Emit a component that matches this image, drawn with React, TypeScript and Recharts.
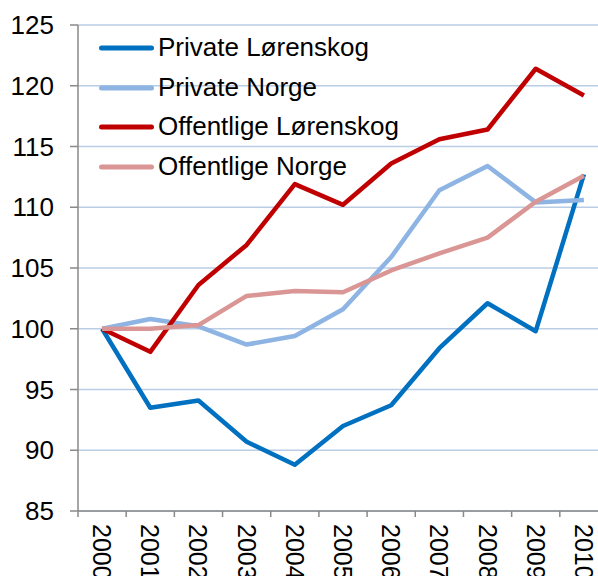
import React from 'react';
import { LineChart, Line, XAxis, YAxis, CartesianGrid, Legend } from 'recharts';

const years = ['2000', '2001', '2002', '2003', '2004', '2005', '2006', '2007', '2008', '2009', '2010'];
const privateLorenskog = [100, 93.5, 94.1, 90.7, 88.8, 92.0, 93.7, 98.4, 102.1, 99.8, 112.7];
const privateNorge = [100, 100.8, 100.2, 98.7, 99.4, 101.6, 105.9, 111.4, 113.4, 110.4, 110.6];
const offentligeLorenskog = [100, 98.1, 103.6, 106.9, 111.9, 110.2, 113.6, 115.6, 116.4, 121.4, 119.2];
const offentligeNorge = [100, 100.0, 100.3, 102.7, 103.1, 103.0, 104.8, 106.2, 107.5, 110.45, 112.6];
const yTicks = [85, 90, 95, 100, 105, 110, 115, 120, 125];

const seriesNames = ['Private Lørenskog', 'Private Norge', 'Offentlige Lørenskog', 'Offentlige Norge'];
const seriesColors = ['#0070C0', '#8DB4E2', '#C00000', '#DA9694'];
const seriesKeys = ['pl', 'pn', 'ol', 'on'];

const data = years.map((y, i) => ({
  year: y,
  pl: privateLorenskog[i],
  pn: privateNorge[i],
  ol: offentligeLorenskog[i],
  on: offentligeNorge[i],
}));

const FONT = '"Liberation Sans", Arial, sans-serif';
const CHART_W = 608;
const CHART_H = 576;
const Y_AXIS_W = 78;
const PLOT_W = CHART_W - Y_AXIS_W;
const HALF_STEP = PLOT_W / years.length / 2;
const AXIS_COLOR = '#898989';

const XTick = (props: any) => {
  const { x, y, payload, index } = props;
  const isLast = index === years.length - 1;
  return (
    <g>
      <line x1={x - HALF_STEP} x2={x - HALF_STEP} y1={y - 6} y2={y} stroke={AXIS_COLOR} strokeWidth={1.5} />
      {isLast && (
        <line x1={x + HALF_STEP} x2={x + HALF_STEP} y1={y - 6} y2={y} stroke={AXIS_COLOR} strokeWidth={1.5} />
      )}
      <text
        x={x}
        y={y + 7}
        transform={`rotate(90, ${x}, ${y + 7})`}
        textAnchor="start"
        dominantBaseline="central"
        fontFamily={FONT}
        fontSize={25}
        fill="#000"
      >
        {payload.value}
      </text>
    </g>
  );
};

const renderLegend = () => (
  <div style={{ fontFamily: FONT, fontSize: 26, color: '#000' }}>
    {seriesNames.map((name, i) => (
      <div key={name} style={{ display: 'flex', alignItems: 'center', height: 39.7, whiteSpace: 'nowrap' }}>
        <svg width={59} height={10} style={{ display: 'block' }}>
          <line x1={2.5} x2={52.5} y1={5} y2={5} stroke={seriesColors[i]} strokeWidth={5} strokeLinecap="round" />
        </svg>
        <span style={{ lineHeight: '39.7px' }}>{name}</span>
      </div>
    ))}
  </div>
);

export default function App() {
  return (
    <div style={{ position: 'absolute', left: 0, top: 0, width: 598, height: 576, overflow: 'hidden', background: '#fff' }}>
      <LineChart width={CHART_W} height={CHART_H} data={data} margin={{ top: 25, right: 0, bottom: 0, left: 0 }}>
        <CartesianGrid vertical={false} stroke="#B9CDE5" strokeWidth={1.5} />
        <XAxis
          dataKey="year"
          height={65}
          padding={{ left: HALF_STEP, right: HALF_STEP }}
          axisLine={{ stroke: AXIS_COLOR, strokeWidth: 1.5 }}
          tickLine={false}
          tickSize={6}
          tickMargin={0}
          interval={0}
          tick={<XTick />}
        />
        <YAxis
          width={Y_AXIS_W}
          domain={[85, 125]}
          ticks={yTicks}
          interval={0}
          axisLine={{ stroke: AXIS_COLOR, strokeWidth: 1.5 }}
          tickLine={{ stroke: AXIS_COLOR, strokeWidth: 1.5 }}
          tickSize={8}
          tickMargin={16}
          tick={{ fontFamily: FONT, fontSize: 26, fill: '#000' }}
        />
        <Legend
          layout="vertical"
          align="center"
          verticalAlign="middle"
          content={renderLegend}
          wrapperStyle={{ left: 99, top: 28, width: 'auto', height: 'auto' }}
        />
        {seriesKeys.map((k, i) => (
          <Line
            key={k}
            type="linear"
            dataKey={k}
            name={seriesNames[i]}
            stroke={seriesColors[i]}
            strokeWidth={4.5}
            strokeLinejoin="round"
            dot={false}
            activeDot={false}
            isAnimationActive={false}
          />
        ))}
      </LineChart>
    </div>
  );
}
